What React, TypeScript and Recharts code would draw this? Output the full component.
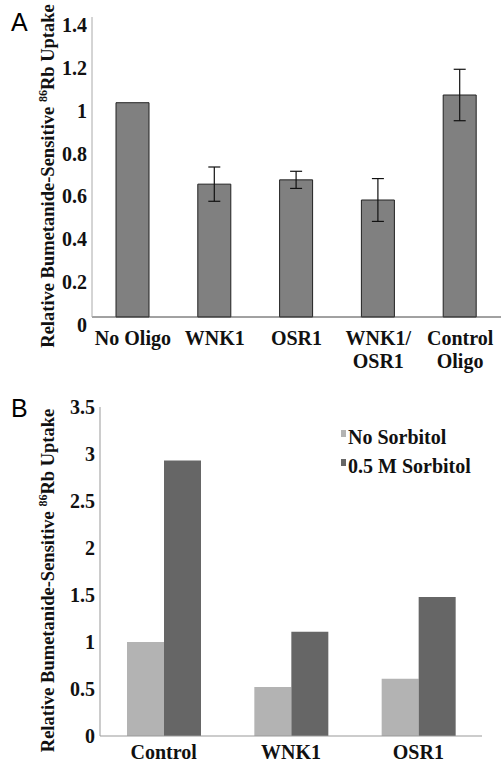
import { Bar, BarChart, ErrorBar, Legend, XAxis, YAxis } from "recharts";

// panel A
const oligoLabels = ["No Oligo", "WNK1", "OSR1", "WNK1/\nOSR1", "Control\nOligo"];
const oligoUptake = [1.0, 0.62, 0.64, 0.546, 1.036];
const oligoError = [0, 0.08, 0.04, 0.1, 0.12];
const ticksA = [0, 0.2, 0.4, 0.6, 0.8, 1, 1.2, 1.4];

// panel B
const sorbitolLabels = ["Control", "WNK1", "OSR1"];
const noSorbitol = [1.0, 0.52, 0.61];
const halfMolarSorbitol = [2.93, 1.11, 1.48];
const ticksB = [0, 0.5, 1, 1.5, 2, 2.5, 3, 3.5];

const dataA = oligoLabels.map((name, i) => ({
  name,
  value: oligoUptake[i],
  err: oligoError[i],
}));
const dataB = sorbitolLabels.map((name, i) => ({
  name,
  none: noSorbitol[i],
  sorb: halfMolarSorbitol[i],
}));

const serif = "Liberation Serif";

const YTick = ({ x, y, payload, dy }: any) => (
  <text
    x={x + 3}
    y={y + dy}
    textAnchor="end"
    dominantBaseline="central"
    style={{ fontFamily: serif, fontWeight: "bold", fontSize: 20 }}
    fill="#111"
  >
    {payload.value}
  </text>
);

const XTick = ({ x, y, payload, dy }: any) => {
  const lines = String(payload.value).split("\n");
  return (
    <text
      x={x}
      y={y + dy}
      textAnchor="middle"
      style={{ fontFamily: serif, fontWeight: "bold", fontSize: 20 }}
      fill="#111"
    >
      {lines.map((l, i) => (
        <tspan key={i} x={x} dy={i === 0 ? 0 : 23}>
          {l}
        </tspan>
      ))}
    </text>
  );
};

// rotated axis title with the superscript isotope number
const yTitle = (cy: number) => (props: any) => {
  const vb = props.viewBox || { x: 0, y: 0, height: 0 };
  const x = vb.x + 54;
  const y = vb.y + vb.height / 2 + cy;
  return (
    <text
      x={x}
      y={y}
      transform={`rotate(-90 ${x} ${y})`}
      textAnchor="middle"
      style={{ fontFamily: serif, fontWeight: "bold", fontSize: 18.5 }}
      fill="#111"
    >
      Relative Bumetanide-Sensitive{" "}
      <tspan fontSize={12} dy={-7}>
        86
      </tspan>
      <tspan dy={7}>Rb Uptake</tspan>
    </text>
  );
};

const SorbitolLegend = ({ payload }: any) => (
  <div style={{ fontFamily: serif, fontWeight: "bold", fontSize: 20, color: "#111", lineHeight: "23px" }}>
    {(payload || []).map((p: any) => (
      <div key={p.value} style={{ display: "flex", alignItems: "flex-start", height: 29 }}>
        <span
          style={{
            width: 5,
            height: 7,
            marginTop: 4,
            marginRight: 2,
            background: p.color,
            display: "inline-block",
          }}
        />
        <span>{p.value}</span>
      </div>
    ))}
  </div>
);

export default function App() {
  return (
    <div style={{ position: "absolute", top: 0, left: 0, width: 503, height: 764, background: "#fff" }}>
      <div style={{ position: "absolute", left: 11, top: 8, fontFamily: '"Liberation Sans", Arial, sans-serif', fontSize: 25 }}>
        A
      </div>
      <div style={{ position: "absolute", left: 11, top: 394, fontFamily: '"Liberation Sans", Arial, sans-serif', fontSize: 25 }}>
        B
      </div>

      <div style={{ position: "absolute", left: 0, top: 0 }}>
        <BarChart
          width={503}
          height={375}
          data={dataA}
          margin={{ top: 17, right: 2, left: 0, bottom: 0 }}
          barSize={33}
        >
          <XAxis
            dataKey="name"
            height={58}
            tickLine={false}
            axisLine={{ stroke: "#444" }}
            tick={<XTick dy={20} />}
            interval={0}
          />
          <XAxis xAxisId="top" orientation="top" dataKey="name" height={0} tick={false} tickLine={false} axisLine={{ stroke: "#333" }} />
          <YAxis
            width={92}
            domain={[0, 1.4]}
            ticks={ticksA}
            tickLine={false}
            axisLine={{ stroke: "#aaa" }}
            tick={<YTick dy={8} />}
            label={{ position: "insideLeft", content: yTitle(9) }}
          />
          <YAxis yAxisId="right" orientation="right" width={0} tick={false} tickLine={false} axisLine={{ stroke: "#333" }} />
          <Bar dataKey="value" fill="#808080" stroke="#222" strokeWidth={1} isAnimationActive={false}>
            <ErrorBar dataKey="err" width={6} stroke="#111" strokeWidth={1.2} />
          </Bar>
        </BarChart>
      </div>

      <div style={{ position: "absolute", left: 0, top: 380 }}>
        <BarChart
          width={503}
          height={384}
          data={dataB}
          margin={{ top: 27, right: 21, left: 0, bottom: 0 }}
          barSize={37}
          barGap={0}
        >
          <XAxis
            dataKey="name"
            height={28}
            tickLine={false}
            axisLine={{ stroke: "#999" }}
            tick={<XTick dy={15} />}
            interval={0}
          />
          <XAxis xAxisId="top" orientation="top" dataKey="name" height={0} tick={false} tickLine={false} axisLine={{ stroke: "#aaa" }} />
          <YAxis
            width={100}
            domain={[0, 3.5]}
            ticks={ticksB}
            tickLine={false}
            axisLine={{ stroke: "#999" }}
            tick={<YTick dy={0} />}
            label={{ position: "insideLeft", content: yTitle(9) }}
          />
          <YAxis yAxisId="right" orientation="right" width={0} tick={false} tickLine={false} axisLine={{ stroke: "#aaa" }} />
          <Legend
            layout="vertical"
            verticalAlign="middle"
            align="center"
            itemSorter="dataKey"
            wrapperStyle={{ top: 46, left: 341, width: 150 }}
            content={<SorbitolLegend />}
          />
          <Bar dataKey="none" name="No Sorbitol" fill="#b3b3b3" isAnimationActive={false} />
          <Bar dataKey="sorb" name="0.5 M Sorbitol" fill="#666666" isAnimationActive={false} />
        </BarChart>
      </div>
    </div>
  );
}
